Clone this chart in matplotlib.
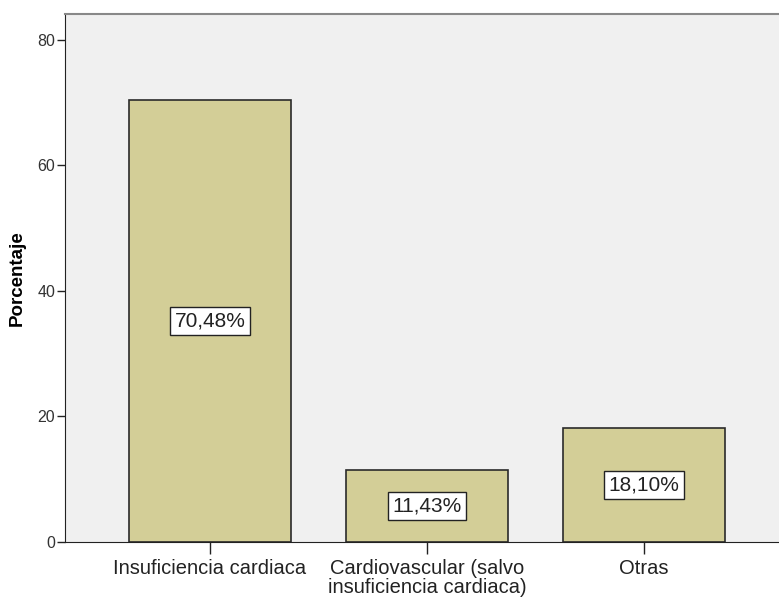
import matplotlib
matplotlib.use("Agg")
import matplotlib.pyplot as plt
import numpy as np

plt.rcParams["font.family"] = ["Liberation Sans", "DejaVu Sans"]

categorias = ["Insuficiencia cardiaca", "Cardiovascular (salvo\ninsuficiencia cardiaca)", "Otras"]
porcentajes = [70.48, 11.43, 18.10]
yticks = [0, 20, 40, 60, 80]

fig = plt.figure(figsize=(7.79, 5.97), dpi=100)
ax = fig.add_axes([65 / 779, 1 - 542 / 597, (789.5 - 65) / 779, (542 - 14) / 597])
ax.set_facecolor("#F0F0F0")

x = np.arange(len(categorias))
ax.bar(x, porcentajes, width=0.746, color="#D3CE97", edgecolor="#2A2A2A", linewidth=1.2)

# percentage labels centred inside each bar
for xi, v in zip(x, porcentajes):
    etiqueta = f"{v:.2f}%".replace(".", ",")
    ax.text(xi, v / 2, etiqueta, ha="center", va="center", fontsize=15, color="#222222",
            bbox=dict(boxstyle="square,pad=0.22", fc="white", ec="#222222", lw=1.0))

ax.set_xlim(-0.668, 2.67)
ax.set_ylim(0, 84.1)
ax.set_xticks(x)
ax.set_xticklabels(categorias, fontsize=14.5, color="#222222", linespacing=1.0)
ax.set_yticks(yticks)
ax.set_yticklabels([str(t) for t in yticks], fontsize=11.5, color="#333333")
ax.tick_params(axis="x", length=8.5, width=1.0, color="#222222", pad=4)
ax.tick_params(axis="y", length=6, width=1.0, color="#222222", pad=1)
ax.set_ylabel("Porcentaje", fontsize=13.5, fontweight="bold")
ax.yaxis.set_label_coords(-0.054, 0.5)

ax.spines["right"].set_visible(False)
ax.spines["top"].set_color("#888888")
ax.spines["top"].set_linewidth(1.5)
ax.spines["left"].set_color("#222222")
ax.spines["bottom"].set_color("#222222")

fig.savefig("out.png", dpi=100)
